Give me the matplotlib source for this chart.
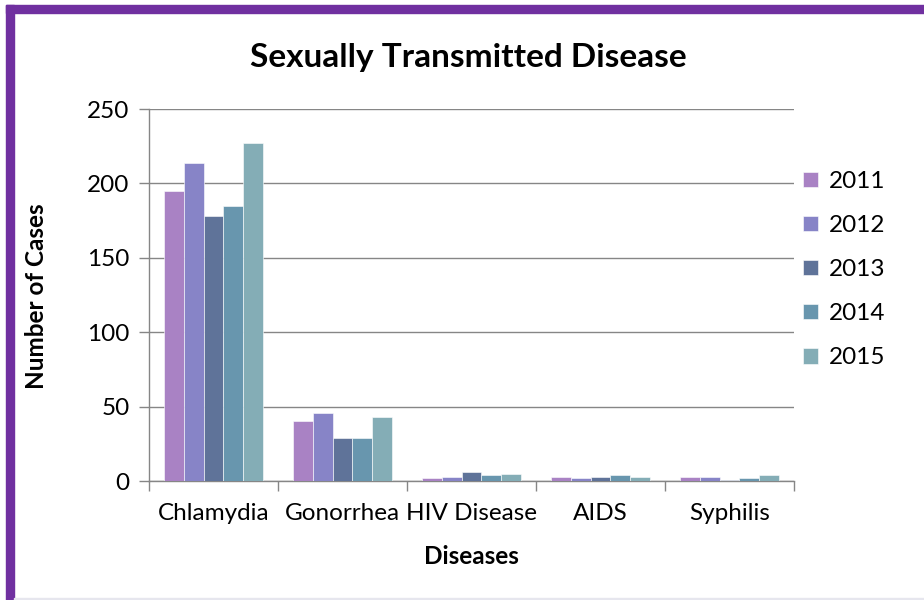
import matplotlib
matplotlib.use("Agg")
import matplotlib.pyplot as plt
from matplotlib.patches import Rectangle
import numpy as np

categories = ["Chlamydia", "Gonorrhea", "HIV Disease", "AIDS", "Syphilis"]
years = ["2011", "2012", "2013", "2014", "2015"]
values = {
    "2011": [195, 40, 2, 3, 3],
    "2012": [214, 46, 3, 2, 3],
    "2013": [178, 29, 6, 3, 1],
    "2014": [185, 29, 4, 4, 2],
    "2015": [227, 43, 5, 3, 4],
}
colors = ["#A982C4", "#8784C7", "#5F7399", "#6896AE", "#84ADB6"]
yticks = [0, 50, 100, 150, 200, 250]

plt.rcParams['font.family'] = ['Lato', 'DejaVu Sans']

fig = plt.figure(figsize=(9.24, 6), dpi=100)
ax = fig.add_axes([149/924, 1-481/600, (794-149)/924, (481-109)/600])

n = len(years)
bw = 1/6.5
x = np.arange(len(categories))
for i, y in enumerate(years):
    offs = (i - (n-1)/2) * bw
    ax.bar(x + offs, values[y], width=bw, color=colors[i], label=y,
           edgecolor='white', linewidth=0.4, zorder=3)

ax.set_xlim(-0.5, len(categories)-0.5)
ax.set_ylim(0, 250)
ax.set_yticks(yticks)
ax.set_yticklabels([str(t) for t in yticks], fontsize=17.5)
ax.set_xticks(x)
ax.set_xticklabels(categories, fontsize=17.5)
ax.set_xticks(np.arange(-0.5, len(categories), 1), minor=True)
ax.tick_params(axis='x', which='major', length=0, pad=16)
ax.tick_params(axis='x', which='minor', length=7, color='#868686', width=1)
ax.tick_params(axis='y', length=7, color='#868686', width=1, pad=7)
ax.yaxis.grid(True, color='#868686', linewidth=1, zorder=0)
for s in ['top', 'right']:
    ax.spines[s].set_visible(False)
for s in ['left', 'bottom']:
    ax.spines[s].set_color('#868686')
    ax.spines[s].set_linewidth(1)

fig.text(37/924, 1-296/600, "Number of Cases", fontsize=17.5, fontweight='bold',
         rotation=90, ha='center', va='center')
fig.text(471/924, 1-556/600, "Diseases", fontsize=17.5, fontweight='bold',
         ha='center', va='center')
fig.text(468/924, 1-58/600, "Sexually Transmitted Disease", fontsize=24,
         fontweight='bold', ha='center', va='center')

leg = ax.legend(loc='upper left', bbox_to_anchor=(803/924, 1-171/600),
                bbox_transform=fig.transFigure, frameon=False, fontsize=17.5,
                handlelength=0.6, handleheight=0.6, labelspacing=0.95,
                handletextpad=0.45, borderaxespad=0, borderpad=0)

purple = '#7030A0'
fig.patches.append(Rectangle((6/924, 0), 8/924, 1-5/600, transform=fig.transFigure,
                             color=purple, zorder=10))
fig.patches.append(Rectangle((6/924, 1-13/600), 1-6/924, 8/600, transform=fig.transFigure,
                             color=purple, zorder=10))
fig.patches.append(Rectangle((14/924, 0), 1, 2/600, transform=fig.transFigure,
                             color='#E6E6EE', zorder=10))

fig.savefig("out.png", dpi=100)
